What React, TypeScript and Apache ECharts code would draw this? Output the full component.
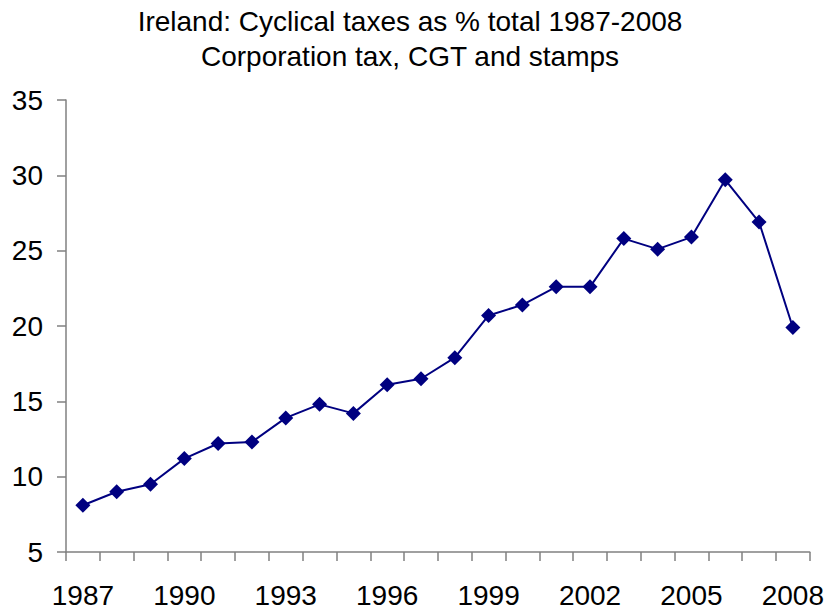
import React, { useEffect, useRef } from "react";
import * as echarts from "echarts";

const years = [
  "1987", "1988", "1989", "1990", "1991", "1992", "1993", "1994", "1995", "1996", "1997",
  "1998", "1999", "2000", "2001", "2002", "2003", "2004", "2005", "2006", "2007", "2008",
];
const shares = [
  8.1, 9.0, 9.5, 11.2, 12.2, 12.3, 13.9, 14.8, 14.2, 16.1, 16.5,
  17.9, 20.7, 21.4, 22.6, 22.6, 25.8, 25.1, 25.9, 29.7, 26.9, 19.9,
];
const titleLines = ["Ireland: Cyclical taxes as % total 1987-2008", "Corporation tax, CGT and stamps"];

export default function App() {
  const ref = useRef<HTMLDivElement>(null);
  useEffect(() => {
    if (!ref.current) return;
    const chart = echarts.init(ref.current, null, { renderer: "svg" });
    const font = "'Liberation Sans', Arial, sans-serif";
    chart.setOption({
      animation: false,
      backgroundColor: "#ffffff",
      title: {
        text: titleLines.join("\n"),
        left: 410,
        top: 4,
        padding: 0,
        textAlign: "center",
        textStyle: {
          fontFamily: font,
          fontSize: 28,
          fontWeight: "normal",
          color: "#000",
          lineHeight: 35,
        },
      },
      grid: { left: 66, right: 17, top: 100, bottom: 60 },
      xAxis: {
        type: "category",
        data: years,
        boundaryGap: true,
        axisLine: { lineStyle: { color: "#808080", width: 1.5 } },
        axisTick: { show: true, length: 9, interval: 0, lineStyle: { color: "#808080", width: 1.5 } },
        axisLabel: { interval: 2, margin: 29, fontFamily: font, fontSize: 28, color: "#000" },
      },
      yAxis: {
        type: "value",
        min: 5,
        max: 35,
        interval: 5,
        splitLine: { show: false },
        axisLine: { show: true, lineStyle: { color: "#808080", width: 1.5 } },
        axisTick: { show: true, length: 9, lineStyle: { color: "#808080", width: 1.5 } },
        axisLabel: { margin: 23, fontFamily: font, fontSize: 28, color: "#000" },
      },
      series: [
        {
          type: "line",
          data: shares,
          symbol: "diamond",
          symbolSize: 15,
          lineStyle: { color: "#000080", width: 2 },
          itemStyle: { color: "#000080" },
        },
      ],
    });
    return () => chart.dispose();
  }, []);
  return <div ref={ref} style={{ width: 827, height: 612, position: "absolute", left: 0, top: 0 }} />;
}
